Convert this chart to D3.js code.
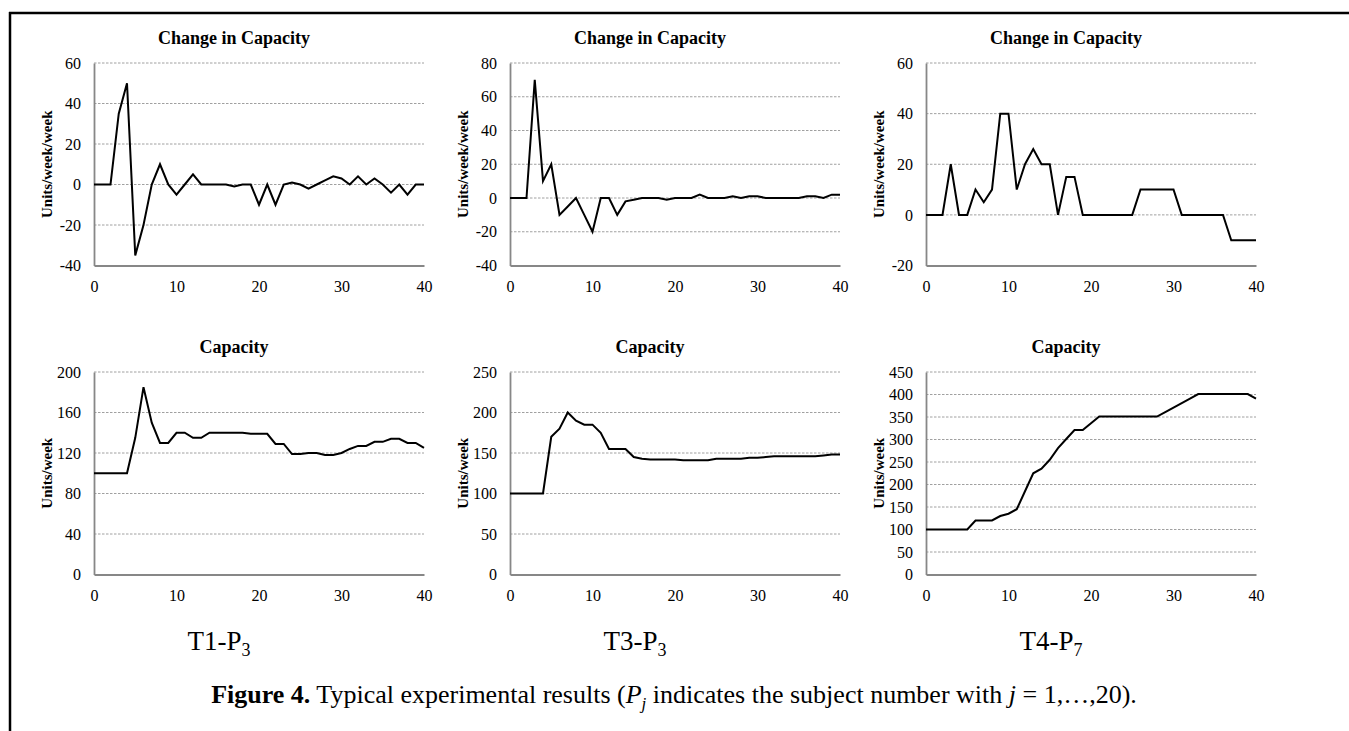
<!DOCTYPE html>
<html>
<head>
<meta charset="utf-8">
<script src="https://cdn.jsdelivr.net/npm/d3@7"></script>
<style>
  body { margin: 0; background: #fff; }
  svg text { font-family: "Liberation Serif", "Times New Roman", serif; fill: #000; }
</style>
</head>
<body>
<script>
// weeks 0..40
let weeks = d3.range(0, 41);

// change in capacity (units/week/week)
let t1Change = [0,0,0,35,50,-35,-20,0,10,0,-5,0,5,0,0,0,0,-1,0,0,-10,0,-10,0,1,0,-2,0,2,4,3,0,4,0,3,0,-4,0,-5,0,0];
let t3Change = [0,0,0,70,10,20,-10,-5,0,-10,-20,0,0,-10,-2,-1,0,0,0,-1,0,0,0,2,0,0,0,1,0,1,1,0,0,0,0,0,1,1,0,2,2];
let t4Change = [0,0,0,20,0,0,10,5,10,40,40,10,20,26,20,20,0,15,15,0,0,0,0,0,0,0,10,10,10,10,10,0,0,0,0,0,0,-10,-10,-10,-10];

// capacity (units/week)
let t1Capacity = [100,100,100,100,100,135,185,150,130,130,140,140,135,135,140,140,140,140,140,139,139,139,129,129,119,119,120,120,118,118,120,124,127,127,131,131,134,134,130,130,125];
let t3Capacity = [100,100,100,100,100,170,180,200,190,185,185,175,155,155,155,145,143,142,142,142,142,141,141,141,141,143,143,143,143,144,144,145,146,146,146,146,146,146,147,148,148];
let t4Capacity = [100,100,100,100,100,100,120,120,120,130,135,145,185,225,235,255,281,301,321,321,336,351,351,351,351,351,351,351,351,361,371,381,391,401,401,401,401,401,401,401,391];

let xTicks = [0, 10, 20, 30, 40];
let t1ChangeTicks = [-40, -20, 0, 20, 40, 60];
let t3ChangeTicks = [-40, -20, 0, 20, 40, 60, 80];
let t4ChangeTicks = [-20, 0, 20, 40, 60];
let t1CapTicks = [0, 40, 80, 120, 160, 200];
let t3CapTicks = [0, 50, 100, 150, 200, 250];
let t4CapTicks = [0, 50, 100, 150, 200, 250, 300, 350, 400, 450];

let groupLabels = ["T1", "T3", "T4"];
let subjectLabels = ["3", "3", "7"];

let serif = '"Liberation Serif", "Times New Roman", serif';
let W = 1349, H = 731;
let svg = d3.select("body").append("svg")
    .attr("width", W)
    .attr("height", H)

// frame (top and left edges only)
svg.append("line").attr("x1", 9).attr("x2", W).attr("y1", 13).attr("y2", 13)
    .attr("stroke", "#000").attr("stroke-width", 2.5)
svg.append("line").attr("x1", 10).attr("x2", 10).attr("y1", 12).attr("y2", H)
    .attr("stroke", "#000").attr("stroke-width", 2.5)

let panels = [
  {x: 94, y: 63, title: "Change in Capacity", ylab: "Units/week/week", data: t1Change, ticks: t1ChangeTicks},
  {x: 510, y: 63, title: "Change in Capacity", ylab: "Units/week/week", data: t3Change, ticks: t3ChangeTicks},
  {x: 926, y: 63, title: "Change in Capacity", ylab: "Units/week/week", data: t4Change, ticks: t4ChangeTicks},
  {x: 94, y: 372, title: "Capacity", ylab: "Units/week", data: t1Capacity, ticks: t1CapTicks},
  {x: 510, y: 372, title: "Capacity", ylab: "Units/week", data: t3Capacity, ticks: t3CapTicks},
  {x: 926, y: 372, title: "Capacity", ylab: "Units/week", data: t4Capacity, ticks: t4CapTicks}
];
let pw = 330, ph = 202.5;

panels.forEach(p => {
  let g = svg.append("g").attr("transform", `translate(${p.x},${p.y})`);
  let x = d3.scaleLinear().domain([0, 40]).range([0, pw]);
  let y = d3.scaleLinear().domain(d3.extent(p.ticks)).range([ph, 0]);

  // dashed gridlines
  g.selectAll(".grid").data(p.ticks.slice(1)).enter()
    .append("line")
    .attr("x1", 0).attr("x2", pw)
    .attr("y1", d => y(d)).attr("y2", d => y(d))
    .attr("stroke", "#a0a0a0")
    .attr("stroke-width", 1)
    .attr("stroke-dasharray", "2.5,1.5")

  // y axis
  let ya = g.append("g").call(d3.axisLeft(y).tickValues(p.ticks).tickFormat(d => String(d)).tickSize(0).tickPadding(13));
  ya.attr("font-family", null);
  ya.select(".domain").attr("stroke", "#878787").attr("stroke-width", 1.8);
  ya.selectAll("text").style("font-family", serif).style("font-size", "16px");

  // x axis
  let xa = g.append("g").attr("transform", `translate(0,${ph})`)
    .call(d3.axisBottom(x).tickValues(xTicks).tickSize(0).tickPadding(15));
  xa.attr("font-family", null);
  xa.select(".domain").attr("stroke", "#878787").attr("stroke-width", 1.8);
  xa.selectAll("text").style("font-family", serif).style("font-size", "16px");

  // line
  let line = d3.line().x((d, i) => x(weeks[i])).y(d => y(d));
  g.append("path").datum(p.data)
    .attr("d", line)
    .attr("fill", "none")
    .attr("stroke", "#000")
    .attr("stroke-width", 2)
    .attr("stroke-linejoin", "miter")

  // title
  g.append("text").attr("x", pw * 0.424).attr("y", -19)
    .attr("text-anchor", "middle").attr("font-weight", "bold").attr("font-size", 18)
    .text(p.title)

  // y label
  g.append("text")
    .attr("transform", `translate(-42,${ph / 2}) rotate(-90)`)
    .attr("text-anchor", "middle").attr("font-weight", "bold").attr("font-size", 15)
    .text(p.ylab)
});

// group labels
let labelX = [219, 635, 1051];
groupLabels.forEach((gl, i) => {
  let t = svg.append("text").attr("x", labelX[i]).attr("y", 650)
    .attr("text-anchor", "middle").attr("font-size", 27);
  t.append("tspan").text(gl + "-P");
  t.append("tspan").attr("font-size", 18).attr("dy", 6).text(subjectLabels[i]);
});

// caption
let cap = svg.append("text").attr("x", 674).attr("y", 703)
  .attr("text-anchor", "middle").attr("font-size", 26);
cap.append("tspan").attr("font-weight", "bold").text("Figure 4.");
cap.append("tspan").text(" Typical experimental results (");
cap.append("tspan").attr("font-style", "italic").text("P");
cap.append("tspan").attr("font-style", "italic").attr("font-size", 17).attr("dy", 6).text("j");
cap.append("tspan").attr("dy", -6).text(" indicates the subject number with ");
cap.append("tspan").attr("font-style", "italic").text("j");
cap.append("tspan").text(" = 1,\u2026,20).");
</script>
</body>
</html>
